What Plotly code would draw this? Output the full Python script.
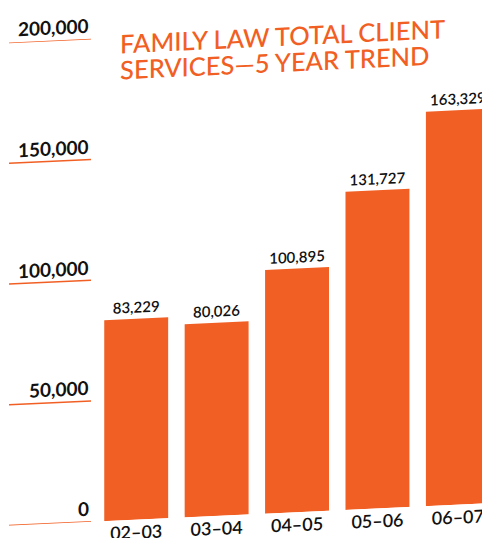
import plotly.graph_objects as go

# Family law client services, fiscal years 2002-03 through 2006-07
years = ["02–03", "03–04", "04–05", "05–06", "06–07"]
services = [83229, 80026, 100895, 131727, 163329]
y_ticks = [0, 50000, 100000, 150000, 200000]
title_lines = ["FAMILY LAW TOTAL CLIENT", "SERVICES—5 YEAR TREND"]

ORANGE = "#F15F24"
FONT = "Lato"
W, H = 482, 560
M_L, M_R, M_T, M_B = 96, 0, 43, 34
plot_w = W - M_L - M_R
plot_h = H - M_T - M_B

fig = go.Figure(
    go.Bar(
        x=years,
        y=services,
        marker=dict(color=ORANGE, line=dict(width=0)),
        texttemplate="%{y:,}",
        textposition="outside",
        textfont=dict(family=FONT, size=15, color="#111111", weight=600),
        cliponaxis=False,
        hoverinfo="skip",
    )
)

# short orange underline + bold label for each value tick, left of the bars
line_x0 = (9 - M_L) / plot_w
line_x1 = (91 - M_L) / plot_w
label_x = (91 - M_L) / plot_w
shapes, annotations = [], []
for v in y_ticks:
    shapes.append(dict(type="line", xref="paper", yref="y",
                       x0=line_x0, x1=line_x1, y0=v, y1=v,
                       line=dict(color=ORANGE, width=1.5)))
    annotations.append(dict(xref="paper", yref="y", x=label_x, y=v,
                            xanchor="right", yanchor="bottom", yshift=0,
                            text=f"{v:,}", showarrow=False,
                            font=dict(family=FONT, size=19, color="#111111", weight=700)))

# two-line title, line centres 26 px apart
for i, line in enumerate(title_lines):
    centre_px = 49 + 26 * i
    annotations.append(dict(xref="paper", yref="paper",
                            x=(118 - M_L) / plot_w,
                            y=1 - (centre_px - M_T) / plot_h,
                            xanchor="left", yanchor="middle",
                            text=line, showarrow=False,
                            font=dict(family=FONT, size=25.5, color=ORANGE, weight=500)))

fig.update_layout(
    width=W, height=H,
    margin=dict(l=M_L, r=M_R, t=M_T, b=M_B, pad=0),
    template="none",
    paper_bgcolor="white", plot_bgcolor="white",
    showlegend=False,
    bargap=0.205,
    shapes=shapes,
    annotations=annotations,
    xaxis=dict(range=[-0.5, 4.3], showgrid=False, zeroline=False, showline=False,
               ticks="", automargin=False,
               tickfont=dict(family=FONT, size=18, color="#111111", weight=600)),
    yaxis=dict(range=[0, 200000], showgrid=False, zeroline=False, showline=False,
               showticklabels=False, ticks="", automargin=False),
)

# the whole graphic is sheared slightly upward to the right
post = """
var gd = document.getElementById('{plot_id}');
gd.style.transformOrigin = '0 0';
gd.style.transform = 'skewY(-2.67deg)';
document.body.style.margin = '0';
document.body.style.overflow = 'hidden';
document.documentElement.style.overflow = 'hidden';
"""

fig.write_html("out.html", post_script=post, config={"displayModeBar": False})
